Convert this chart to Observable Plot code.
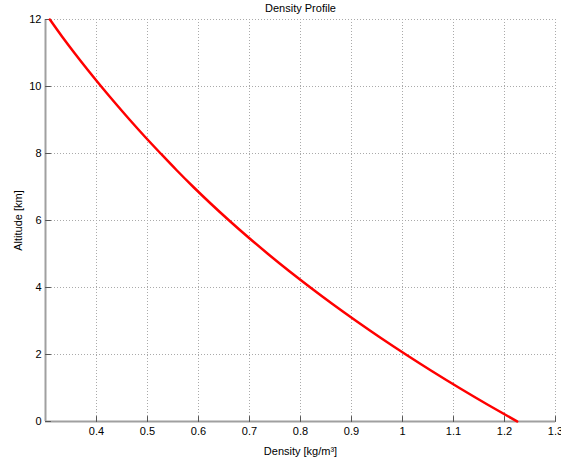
<!DOCTYPE html>
<html>
<head>
<meta charset="utf-8">
<script src="https://cdn.jsdelivr.net/npm/d3@7"></script>
<script src="https://cdn.jsdelivr.net/npm/@observablehq/plot@0.6"></script>
<style>
  html, body { margin: 0; padding: 0; background: white; }
</style>
</head>
<body>
<div id="chart"></div>
<script>
// Data (density profile)
const altitude = [0, 0.5, 1, 1.5, 2, 2.5, 3, 3.5, 4, 4.5, 5, 5.5, 6, 6.5, 7, 7.5, 8, 8.5, 9, 9.5, 10, 10.5, 11, 11.5, 12];
const density = [1.2250, 1.1673, 1.1117, 1.0581, 1.0066, 0.9569, 0.9093, 0.8634, 0.8194, 0.7770, 0.7364, 0.6975, 0.6601, 0.6243, 0.5900, 0.5572, 0.5258, 0.4950, 0.4655, 0.4370, 0.4093, 0.3826, 0.3568, 0.3320, 0.3085];
const xDomain = [0.3, 1.3];
const yDomain = [0, 12];
const xTicks = [0.4, 0.5, 0.6, 0.7, 0.8, 0.9, 1.0, 1.1, 1.2, 1.3];
const yTicks = [0, 2, 4, 6, 8, 10, 12];
const title = "Density Profile";
const xLabel = "Density [kg/m³]";
const yLabel = "Altitude [km]";

const rows = altitude.map((a, i) => ({altitude: a, density: density[i]}));

const tickShape = {
  draw(context, l) { context.moveTo(0, 0); context.lineTo(0, -l); }
};

const chart = Plot.plot({
  width: 561,
  height: 466,
  marginLeft: 45,
  marginRight: 6,
  marginTop: 19,
  marginBottom: 45,
  style: {
    fontFamily: "'Liberation Sans', Arial, Helvetica, sans-serif",
    fontSize: "11px",
    color: "#000",
    background: "white",
    overflow: "visible"
  },
  x: {domain: xDomain},
  y: {domain: yDomain},
  marks: [
    Plot.gridX(xTicks, {stroke: "#aaa", strokeOpacity: 1, strokeDasharray: "1,2"}),
    Plot.gridY(yTicks, {stroke: "#aaa", strokeOpacity: 1, strokeDasharray: "1,2"}),
    Plot.ruleX([xDomain[0]], {stroke: "#a0a0a0", strokeWidth: 2}),
    Plot.ruleY([yDomain[0]], {stroke: "#a0a0a0", strokeWidth: 2}),
    Plot.vector(xTicks, {x: d => d, y: () => yDomain[0], length: 5, rotate: 0, anchor: "start", shape: tickShape, stroke: "#555", strokeWidth: 1}),
    Plot.vector(yTicks, {x: () => xDomain[0], y: d => d, length: 5, rotate: 90, anchor: "start", shape: tickShape, stroke: "#555", strokeWidth: 1}),
    Plot.axisX({ticks: xTicks, tickSize: 0, tickPadding: 6, label: null, tickFormat: d => String(+d.toFixed(1)), fontSize: 11}),
    Plot.axisY({ticks: yTicks, tickSize: 0, tickPadding: 4, label: null, tickFormat: d => String(d), fontSize: 11}),
    Plot.line(rows, {x: "density", y: "altitude", stroke: "#ff0000", strokeWidth: 2.5, curve: "monotone-y"}),
    Plot.text([title], {frameAnchor: "top", dy: -11, lineAnchor: "middle", fontSize: 11, fill: "#000"}),
    Plot.text([xLabel], {frameAnchor: "bottom", dy: 29.5, lineAnchor: "middle", fontSize: 11, fill: "#000"}),
    Plot.text([yLabel], {frameAnchor: "left", dx: -27, rotate: -90, lineAnchor: "middle", textAnchor: "middle", fontSize: 11, fill: "#000"})
  ]
});

document.getElementById("chart").appendChild(chart);
</script>
</body>
</html>
